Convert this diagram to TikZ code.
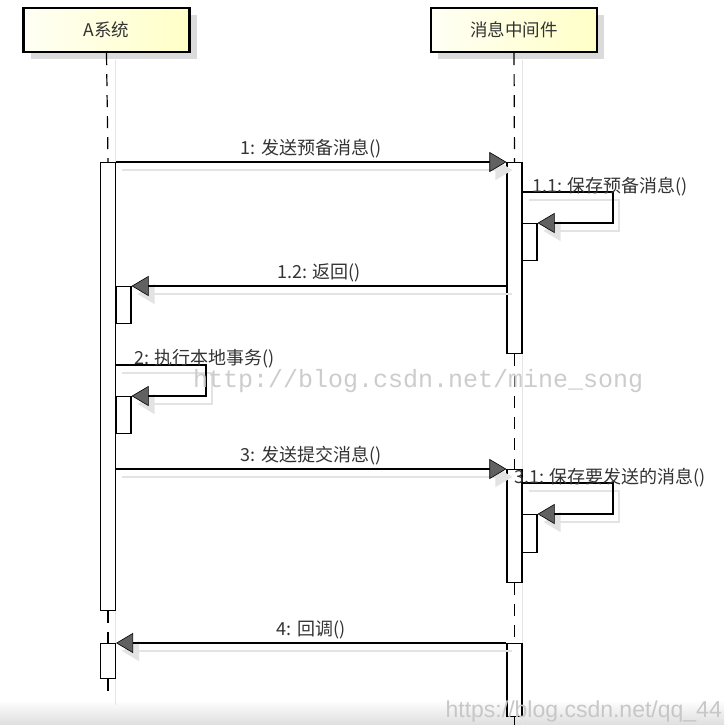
\documentclass[tikz,border=0pt]{standalone}
\usepackage{fontspec}
\newfontfamily\cjk{Noto Sans CJK SC}
\newfontfamily\markmono{Liberation Mono}
\newfontfamily\marksans{Liberation Sans}
\usetikzlibrary{positioning, arrows.meta, shadows}

\begin{document}
\begin{tikzpicture}[x=1pt, y=-1pt,
    head/.style={draw=black, line width=2.4pt, left color=yellow!4, right color=yellow!22,
        minimum width=166pt, minimum height=44pt, inner sep=0pt, text=black!80,
        font=\cjk\fontsize{17.5}{20}\selectfont,
        drop shadow={shadow xshift=7pt, shadow yshift=-7pt, fill=black!14, opacity=1}},
    act/.style={draw=black, line width=1.2pt, fill=white, minimum width=15pt,
        inner sep=0pt, anchor=north},
    life/.style={draw=black, line width=1.2pt, dash pattern=on 12pt off 9pt},
    lifeshadow/.style={draw=black!10, line width=0.8pt},
    msg/.style={draw=black, line width=1.2pt,
        -{Triangle[length=17pt, width=20pt, fill=black!62, line width=0.6pt]},
        preaction={draw=black!11, line width=1.4pt,
            -{Triangle[length=17pt, width=20pt, fill=black!11, color=black!11]},
            transform canvas={xshift=6pt, yshift=-8pt}}},
    lbl/.style={text=black!80, font=\cjk\fontsize{18}{21}\selectfont, inner sep=1pt}
]
    \useasboundingbox (0,0) rectangle (724,725);

    % bottom edge of the screenshot
    \shade[top color=white, bottom color=black!13] (0,700) rectangle (724,725);

    % lifeline shadows
    \draw[lifeshadow] (115,60) -- (115,705);
    \draw[lifeshadow] (522,60) -- (522,725);

    % heads
    \node[head] (headA) at (106.5,30) {A系统};
    \node[head] (headB) at (514,30) {消息中间件};

    % activations
    \node[act, minimum height=448pt] (actA) at (108,162) {};
    \node[act, minimum height=35pt] (actA2) at (108,643) {};
    \node[act, minimum height=37pt] (nestA) at (123.5,286) {};
    \node[act, minimum height=37pt] (nestA2) at (123.5,396) {};
    \node[act, minimum height=191pt] (actB) at (514.5,162) {};
    \node[act, minimum height=37pt] (nestB) at (529.5,223) {};
    \node[act, minimum height=113pt] (actB2) at (514.5,469) {};
    \node[act, minimum height=38pt] (nestB2) at (529.5,514) {};
    \node[act, minimum height=73pt] (actB3) at (514.5,643) {};
    \coordinate (endA) at (108,697);
    \coordinate (endB) at (514.5,725);

    % lifelines
    \draw[life] (headA.south) -- (actA.north);
    \draw[life] (actA.south) -- (actA2.north);
    \draw[life] (actA2.south) -- (endA);
    \draw[life] (headB.south) -- (actB.north);
    \draw[life] (actB.south) -- (actB2.north);
    \draw[life] (actB2.south) -- (actB3.north);
    \draw[life] (actB3.south) -- (endB);

    % 1 and its self call
    \draw[msg] (actA.north east) -- node[lbl, midway, above=2pt] (l1) {1: 发送预备消息()} (actB.north west);
    \coordinate (turnB) at (613,192);
    \draw[msg] (actB.east |- turnB) -- (turnB) |- (nestB.north east);
    \node[lbl, anchor=west] (l11) at (531,187) {1.1: 保存预备消息()};

    % 1.2 back to A
    \draw[msg] (actB.west |- nestA.north) -- node[lbl, midway, above=2pt] (l12) {1.2: 返回()} (nestA.north east);

    % 2 local transaction
    \coordinate (turnA) at (206,365);
    \draw[msg] (actA.east |- turnA) -- (turnA) |- (nestA2.north east);
    \node[lbl, anchor=west] (l2) at (133,359) {2: 执行本地事务()};

    % 3 and its self call
    \draw[msg] (actA.east |- actB2.north) -- node[lbl, midway, above=2pt] (l3) {3: 发送提交消息()} (actB2.north west);
    \coordinate (turnB2) at (613,483);
    \draw[msg] (actB2.east |- turnB2) -- (turnB2) |- (nestB2.north east);
    \node[lbl, anchor=west] (l31) at (513,478) {3.1: 保存要发送的消息()};

    % 4 callback
    \draw[msg] (actB3.north west) -- node[lbl, midway, above=2pt] (l4) {4: 回调()} (actA2.north east);

    % watermarks
    \node[anchor=west, text=black!20, font=\markmono\fontsize{25}{28}\selectfont, inner sep=0pt] (mark1) at (193,381) {http://blog.csdn.net/mine\_song};
    \node[anchor=east, text=black!22, font=\marksans\fontsize{23}{26}\selectfont, inner sep=0pt] (mark2) at (722,712) {https://blog.csdn.net/qq\_44};
\end{tikzpicture}
\end{document}
